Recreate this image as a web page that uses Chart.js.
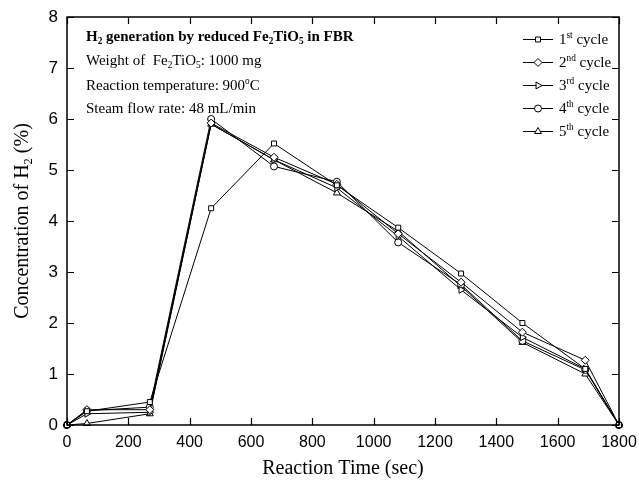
<!DOCTYPE html>
<html>
<head>
<meta charset="utf-8">
<script src="https://cdn.jsdelivr.net/npm/chart.js@4/dist/chart.umd.min.js"></script>
<style>
html,body{margin:0;padding:0;background:#fff;}
#wrap{position:relative;width:639px;height:481px;}
</style>
</head>
<body>
<div id="wrap"><canvas id="c" width="639" height="481"></canvas></div>
<script>
const time = [0, 65, 270, 470, 675, 880, 1080, 1285, 1485, 1690, 1800];
const cycle1 = [0, 0.27, 0.45, 4.25, 5.52, 4.70, 3.87, 2.97, 2.00, 1.10, 0];
const cycle2 = [0, 0.30, 0.30, 5.92, 5.25, 4.72, 3.75, 2.80, 1.82, 1.27, 0];
const cycle3 = [0, 0.22, 0.25, 5.90, 5.20, 4.65, 3.70, 2.65, 1.72, 1.10, 0];
const cycle4 = [0, 0.28, 0.35, 6.00, 5.07, 4.77, 3.58, 2.75, 1.65, 1.08, 0];
const cycle5 = [0, 0.03, 0.22, 5.90, 5.20, 4.55, 3.80, 2.72, 1.62, 1.00, 0];
const seriesNames = [["1","st"],["2","nd"],["3","rd"],["4","th"],["5","th"]];
const xTicks = [0,200,400,600,800,1000,1200,1400,1600,1800];
const yTicks = [0,1,2,3,4,5,6,7,8];

const styles = [
  {pointStyle:'rect', rot:0, r:3.5},
  {pointStyle:'rectRot', rot:0, r:4},
  {pointStyle:'triangle', rot:90, r:4},
  {pointStyle:'circle', rot:0, r:3.5},
  {pointStyle:'triangle', rot:0, r:4}
];
const allSeries = [cycle1, cycle2, cycle3, cycle4, cycle5];

const datasets = allSeries.map((s,i)=>({
  label: seriesNames[i].join('') + ' cycle',
  data: time.map((t,j)=>({x:t, y:s[j]})),
  borderColor:'#000', borderWidth:1,
  backgroundColor:'#fff',
  pointStyle: styles[i].pointStyle,
  pointRotation: styles[i].rot,
  pointRadius: styles[i].r,
  pointBorderWidth:1,
  pointBorderColor:'#000',
  pointBackgroundColor:'#fff',
  tension:0, clip:false
}));

const SERIF = '"Liberation Serif", "Times New Roman", serif';
const SANS = '"Liberation Sans", Arial, sans-serif';

function richWidth(ctx, parts, size, bold){
  let w=0;
  for(const [t,m] of parts){
    const s = m==='n'? size : size*0.62;
    ctx.font = (bold?'bold ':'') + s + 'px ' + SERIF;
    w += ctx.measureText(t).width;
  }
  return w;
}
function drawRich(ctx, x, y, parts, size, bold){
  for(const [t,m] of parts){
    const s = m==='n'? size : size*0.62;
    ctx.font = (bold?'bold ':'') + s + 'px ' + SERIF;
    let dy = 0;
    if(m==='sub') dy = size*0.22;
    if(m==='sup') dy = -size*0.42;
    ctx.fillText(t, x, y+dy);
    x += ctx.measureText(t).width;
  }
  return x;
}

const decor = {
  id:'decor',
  afterDraw(chart){
    const ctx = chart.ctx;
    const xs = chart.scales.x, ys = chart.scales.y;
    const a = chart.chartArea;
    ctx.save();
    ctx.strokeStyle='#000';
    ctx.lineWidth=1.5;
    ctx.strokeRect(a.left, a.top, a.right-a.left, a.bottom-a.top);
    ctx.lineWidth=1.2;
    const L=7;
    ctx.beginPath();
    for(const v of xTicks){
      const px = Math.round(xs.getPixelForValue(v))+0.5;
      ctx.moveTo(px, a.bottom); ctx.lineTo(px, a.bottom-L);
      ctx.moveTo(px, a.top); ctx.lineTo(px, a.top+L);
    }
    for(const v of yTicks){
      const py = Math.round(ys.getPixelForValue(v))+0.5;
      ctx.moveTo(a.left, py); ctx.lineTo(a.left+L, py);
      ctx.moveTo(a.right, py); ctx.lineTo(a.right-L, py);
    }
    ctx.stroke();

    // annotation text
    ctx.fillStyle='#000';
    ctx.textAlign='left';
    ctx.textBaseline='alphabetic';
    drawRich(ctx, 86, 41, [['H','n'],['2','sub'],[' generation by reduced Fe','n'],['2','sub'],['TiO','n'],['5','sub'],[' in FBR','n']], 15, true);
    drawRich(ctx, 86, 65, [['Weight of  Fe','n'],['2','sub'],['TiO','n'],['5','sub'],[': 1000 mg','n']], 15, false);
    drawRich(ctx, 86, 90, [['Reaction temperature: 900','n'],['o','sup'],['C','n']], 15, false);
    drawRich(ctx, 86, 113, [['Steam flow rate: 48 mL/min','n']], 15, false);

    // legend
    for(let i=0;i<5;i++){
      const y = 39 + i*23;
      ctx.strokeStyle='#000'; ctx.lineWidth=1;
      ctx.beginPath(); ctx.moveTo(523,y+0.5); ctx.lineTo(553,y+0.5); ctx.stroke();
      ctx.fillStyle='#fff';
      Chart.helpers.drawPoint(ctx, {pointStyle:styles[i].pointStyle, rotation:styles[i].rot, radius:styles[i].r, borderWidth:1}, 538, y+0.5);
      ctx.fillStyle='#000';
      drawRich(ctx, 559, y+5, [[seriesNames[i][0],'n'],[seriesNames[i][1],'sup'],[' cycle','n']], 15, false);
    }

    // y axis title
    ctx.save();
    ctx.translate(28, 221);
    ctx.rotate(-Math.PI/2);
    const yparts = [['Concentration of H','n'],['2','sub'],[' (%)','n']];
    const w = richWidth(ctx, yparts, 20, false);
    ctx.fillStyle='#000';
    drawRich(ctx, -w/2, 0, yparts, 20, false);
    ctx.restore();

    // x axis title
    const xparts = [['Reaction Time (sec)','n']];
    const xw = richWidth(ctx, xparts, 20, false);
    drawRich(ctx, (a.left+a.right)/2 - xw/2, 474, xparts, 20, false);
    ctx.restore();
  }
};

new Chart(document.getElementById('c'), {
  type:'line',
  data:{datasets},
  options:{
    responsive:false,
    animation:false,
    events:[],
    layout:{padding:{top:17,right:20,left:0,bottom:0}},
    plugins:{legend:{display:false}, tooltip:{enabled:false}},
    scales:{
      x:{
        type:'linear', min:0, max:1800,
        afterBuildTicks(s){ s.ticks = xTicks.map(v=>({value:v})); },
        afterFit(s){ s.height = 56; s.paddingLeft = 0; s.paddingRight = 0; },
        grid:{display:false, drawTicks:false},
        border:{display:false},
        ticks:{color:'#000', font:{family:SANS, size:16}, padding:8, maxRotation:0, autoSkip:false,
               callback:(v)=>String(v)}
      },
      y:{
        type:'linear', min:0, max:8,
        afterBuildTicks(s){ s.ticks = yTicks.map(v=>({value:v})); },
        afterFit(s){ s.width = 67; s.paddingTop = 0; s.paddingBottom = 0; },
        grid:{display:false, drawTicks:false},
        border:{display:false},
        ticks:{color:'#000', font:{family:SANS, size:17}, padding:9,
               callback:(v)=>String(v)}
      }
    }
  },
  plugins:[decor]
});
</script>
</body>
</html>
